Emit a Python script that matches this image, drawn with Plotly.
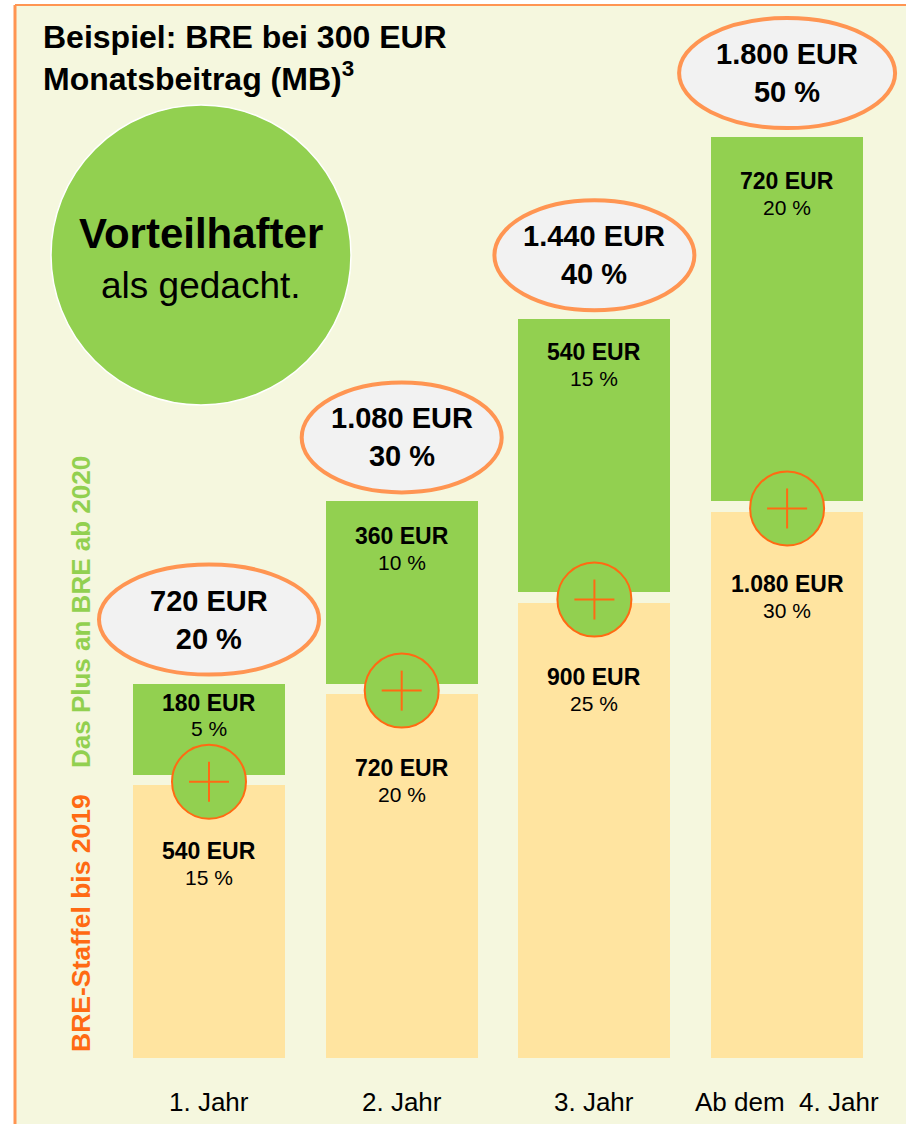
import plotly.graph_objects as go

# ---------------- data ----------------
categories = ["1. Jahr", "2. Jahr", "3. Jahr", "Ab dem  4. Jahr"]
staffel_eur = [540, 720, 900, 1080]      # BRE-Staffel bis 2019
staffel_pct = [15, 20, 25, 30]
plus_eur = [180, 360, 540, 720]          # Das Plus an BRE ab 2020
plus_pct = [5, 10, 15, 20]
total_eur = [720, 1080, 1440, 1800]
total_pct = [20, 30, 40, 50]

# ---------------- layout constants ----------------
W, H = 906, 1124
ML, MT = 15, 5
PW, PH = W - ML, H - MT
X0_PX, X_STEP = 209.0, 192.7     # pixel of first category centre, px per category
Y0_PX, Y_SCALE = 1058.0, 0.506   # pixel of value 0, px per EUR
GAP = 20                         # visual gap between stacked parts (EUR units)
BAR_W_PX = 152

CREAM = "#F5F7DE"
GREEN = "#92D050"
YELLOW = "#FFE4A0"
ORANGE = "#FF6A13"
ORANGE_LIGHT = "#FF9552"
GREY = "#F2F2F2"
FONT = "Liberation Sans, Arial, sans-serif"

x_range = [(ML - X0_PX) / X_STEP, (W - X0_PX) / X_STEP]
y_range = [(Y0_PX - H) / Y_SCALE, (Y0_PX - MT) / Y_SCALE]


def de(n):
    return f"{n:,}".replace(",", ".")


def px_x(p):  # absolute pixel -> paper x
    return (p - ML) / PW


def px_y(p):  # absolute pixel -> paper y
    return 1 - (p - MT) / PH


def val_y(p):  # absolute pixel -> data y
    return (Y0_PX - p) / Y_SCALE


xs = list(range(len(categories)))
green_base = [s + GAP for s in staffel_eur]
green_top = [b + p for b, p in zip(green_base, plus_eur)]

fig = go.Figure()
fig.add_trace(go.Bar(x=xs, y=staffel_eur, base=0, width=BAR_W_PX / X_STEP,
                     marker=dict(color=YELLOW, line=dict(width=0)),
                     hoverinfo="skip", showlegend=False))
fig.add_trace(go.Bar(x=xs, y=plus_eur, base=green_base, width=BAR_W_PX / X_STEP,
                     marker=dict(color=GREEN, line=dict(width=0)),
                     hoverinfo="skip", showlegend=False))

shapes = []
annotations = []

# frame lines
shapes.append(dict(type="line", xref="paper", yref="paper", x0=0, x1=1.02, y0=1, y1=1,
                   line=dict(color=ORANGE_LIGHT, width=2)))
shapes.append(dict(type="line", xref="paper", yref="paper", x0=0, x1=0, y0=-0.02, y1=1,
                   line=dict(color=ORANGE_LIGHT, width=3)))

# big green circle
shapes.append(dict(type="circle", xref="paper", yref="paper",
                   x0=px_x(51), x1=px_x(351), y0=px_y(405), y1=px_y(105),
                   fillcolor=GREEN, line=dict(color="white", width=1.5), layer="below"))


def paper_text(x, y, text, size, color="black", angle=0, **kw):
    d = dict(xref="paper", yref="paper", x=px_x(x), y=px_y(y), text=text,
             showarrow=False, xanchor="center", yanchor="middle", textangle=angle,
             font=dict(size=size, color=color, family=FONT))
    d.update(kw)
    annotations.append(d)


paper_text(201, 233, "<b>Vorteilhafter</b>", 42)
paper_text(201, 285, "als gedacht.", 37)

# title
paper_text(41, 58, "<b>Beispiel: BRE bei 300 EUR<br>Monatsbeitrag (MB)<sup>3</sup></b>", 32,
           xanchor="left", align="left")

# side labels
paper_text(81, 612, "<b>Das Plus an BRE ab 2020</b>", 26, GREEN, -90)
paper_text(81, 923, "<b>BRE-Staffel bis 2019</b>", 26.5, ORANGE, -90)

green_label_off = [19, 35, 33, 44]
yellow_label_off = [66, 74, 74, 72]
ellipse_rx = [110, 100, 100, 108]

for i in xs:
    # total ellipse above the bar
    shapes.append(dict(type="circle", xref="x", yref="y",
                       xsizemode="pixel", ysizemode="pixel",
                       xanchor=i, yanchor=green_top[i],
                       x0=-ellipse_rx[i], x1=ellipse_rx[i], y0=64 - 55, y1=64 + 55,
                       fillcolor=GREY, line=dict(color=ORANGE_LIGHT, width=4)))
    annotations.append(dict(x=i, y=green_top[i], yshift=64, showarrow=False,
                            xanchor="center", yanchor="middle",
                            text=f"<b>{de(total_eur[i])} EUR<br>{total_pct[i]} %</b>",
                            font=dict(size=29, color="black", family=FONT)))
    # plus circle at junction
    jy = staffel_eur[i] + GAP / 2
    shapes.append(dict(type="circle", xref="x", yref="y",
                       xsizemode="pixel", ysizemode="pixel",
                       xanchor=i, yanchor=jy, x0=-37, x1=37, y0=-39, y1=35,
                       fillcolor=GREEN, line=dict(color=ORANGE, width=2)))
    shapes.append(dict(type="line", xref="x", yref="y",
                       xsizemode="pixel", ysizemode="pixel",
                       xanchor=i, yanchor=jy, x0=-20, x1=20, y0=-2, y1=-2,
                       line=dict(color=ORANGE, width=2)))
    shapes.append(dict(type="line", xref="x", yref="y",
                       xsizemode="pixel", ysizemode="pixel",
                       xanchor=i, yanchor=jy, x0=0, x1=0, y0=-22, y1=18,
                       line=dict(color=ORANGE, width=2)))
    # green part labels
    annotations.append(dict(x=i, y=green_top[i], yshift=-green_label_off[i], showarrow=False,
                            xanchor="center", yanchor="middle",
                            text=f"<b>{de(plus_eur[i])} EUR</b>",
                            font=dict(size=23, color="black", family=FONT)))
    annotations.append(dict(x=i, y=green_top[i], yshift=-(green_label_off[i] + 26), showarrow=False,
                            xanchor="center", yanchor="middle",
                            text=f"{plus_pct[i]} %",
                            font=dict(size=21, color="black", family=FONT)))
    # yellow part labels
    annotations.append(dict(x=i, y=staffel_eur[i], yshift=-yellow_label_off[i], showarrow=False,
                            xanchor="center", yanchor="middle",
                            text=f"<b>{de(staffel_eur[i])} EUR</b>",
                            font=dict(size=23, color="black", family=FONT)))
    annotations.append(dict(x=i, y=staffel_eur[i], yshift=-(yellow_label_off[i] + 27), showarrow=False,
                            xanchor="center", yanchor="middle",
                            text=f"{staffel_pct[i]} %",
                            font=dict(size=21, color="black", family=FONT)))
    # category labels
    annotations.append(dict(x=i, y=val_y(1102), showarrow=False, text=categories[i],
                            xanchor="center", yanchor="middle",
                            font=dict(size=26, color="black", family=FONT)))

fig.update_layout(
    width=W, height=H,
    margin=dict(l=ML, r=0, t=MT, b=0, pad=0),
    paper_bgcolor="white", plot_bgcolor=CREAM,
    barmode="overlay", bargap=0,
    xaxis=dict(range=x_range, visible=False, fixedrange=True),
    yaxis=dict(range=y_range, visible=False, fixedrange=True),
    shapes=shapes, annotations=annotations,
    showlegend=False,
)

fig.write_html("out.html", config={"displayModeBar": False},
               post_script="document.body.style.margin='0';document.body.style.overflow='hidden';")
